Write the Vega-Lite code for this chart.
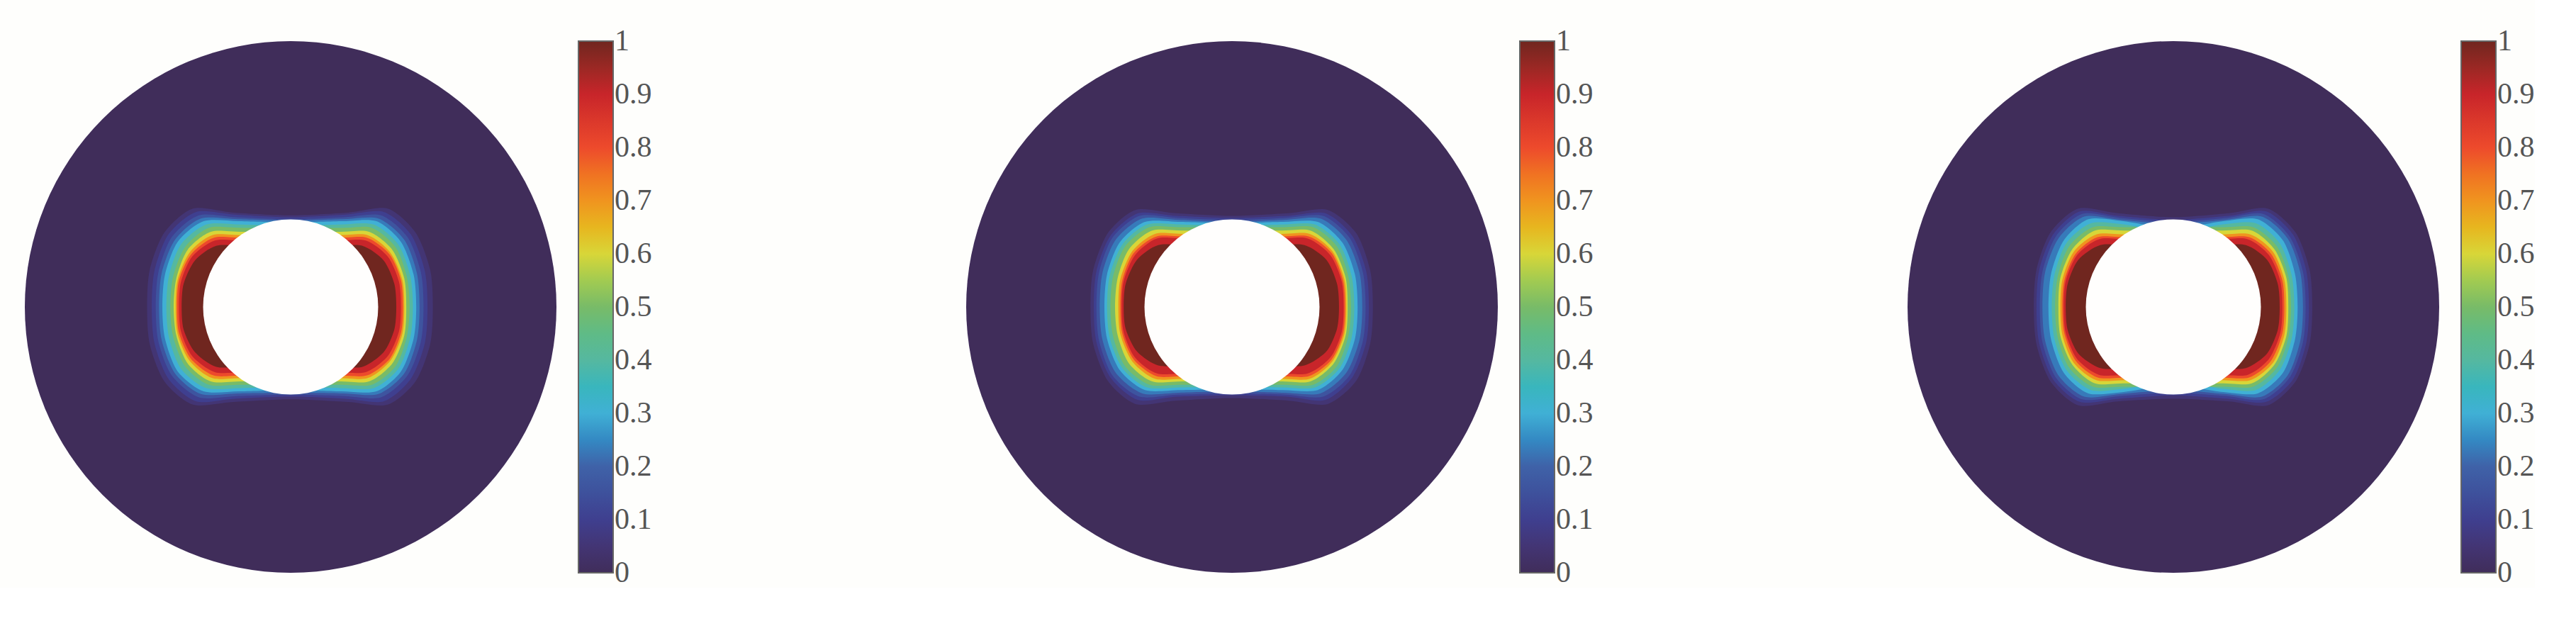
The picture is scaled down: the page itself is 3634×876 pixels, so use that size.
{"$schema":"https://vega.github.io/schema/vega-lite/v6.json","background":"#fefefc","padding":{"left":35,"top":58,"right":0,"bottom":0},"spacing":443,"config":{"view":{"stroke":null},"legend":{"title":null,"offset":31,"padding":0,"gradientLength":750,"gradientThickness":49,"gradientStrokeColor":"#666","gradientStrokeWidth":2,"labelFont":"Liberation Serif","labelFontSize":42,"labelColor":"#555","labelOffset":11,"labelOverlap":false}},"resolve":{"scale":{"fill":"independent"},"legend":{"fill":"independent"}},
"datasets":{"disc":[{"x":0,"y":0,"v":0}],"hole":[{"x":0,"y":0}],
"p1":[
{"v":0.05,"i":0,"x":0,"y":-138},{"v":0.05,"i":1,"x":86,"y":-142},{"v":0.05,"i":2,"x":146,"y":-148},{"v":0.05,"i":3,"x":188,"y":-112},{"v":0.05,"i":4,"x":210,"y":-56},{"v":0.05,"i":5,"x":214,"y":0},{"v":0.05,"i":6,"x":210,"y":56},{"v":0.05,"i":7,"x":188,"y":112},{"v":0.05,"i":8,"x":146,"y":147},{"v":0.05,"i":9,"x":86,"y":143},{"v":0.05,"i":10,"x":0,"y":139},{"v":0.05,"i":11,"x":-86,"y":143},{"v":0.05,"i":12,"x":-147,"y":147},{"v":0.05,"i":13,"x":-190,"y":112},{"v":0.05,"i":14,"x":-212,"y":56},{"v":0.05,"i":15,"x":-216,"y":0},{"v":0.05,"i":16,"x":-212,"y":-56},{"v":0.05,"i":17,"x":-190,"y":-112},{"v":0.05,"i":18,"x":-147,"y":-148},{"v":0.05,"i":19,"x":-86,"y":-142},
{"v":0.1,"i":0,"x":0,"y":-135},{"v":0.1,"i":1,"x":82,"y":-139},{"v":0.1,"i":2,"x":140,"y":-143},{"v":0.1,"i":3,"x":181,"y":-109},{"v":0.1,"i":4,"x":202,"y":-54},{"v":0.1,"i":5,"x":206,"y":0},{"v":0.1,"i":6,"x":202,"y":54},{"v":0.1,"i":7,"x":181,"y":108},{"v":0.1,"i":8,"x":140,"y":142},{"v":0.1,"i":9,"x":82,"y":138},{"v":0.1,"i":10,"x":0,"y":135},{"v":0.1,"i":11,"x":-84,"y":138},{"v":0.1,"i":12,"x":-142,"y":142},{"v":0.1,"i":13,"x":-184,"y":108},{"v":0.1,"i":14,"x":-205,"y":54},{"v":0.1,"i":15,"x":-209,"y":0},{"v":0.1,"i":16,"x":-205,"y":-54},{"v":0.1,"i":17,"x":-184,"y":-109},{"v":0.1,"i":18,"x":-142,"y":-143},{"v":0.1,"i":19,"x":-84,"y":-139},
{"v":0.16,"i":0,"x":0,"y":-132},{"v":0.16,"i":1,"x":80,"y":-135},{"v":0.16,"i":2,"x":136,"y":-138},{"v":0.16,"i":3,"x":176,"y":-105},{"v":0.16,"i":4,"x":196,"y":-52},{"v":0.16,"i":5,"x":200,"y":0},{"v":0.16,"i":6,"x":196,"y":52},{"v":0.16,"i":7,"x":176,"y":103},{"v":0.16,"i":8,"x":136,"y":136},{"v":0.16,"i":9,"x":80,"y":134},{"v":0.16,"i":10,"x":0,"y":132},{"v":0.16,"i":11,"x":-81,"y":134},{"v":0.16,"i":12,"x":-138,"y":136},{"v":0.16,"i":13,"x":-179,"y":103},{"v":0.16,"i":14,"x":-199,"y":52},{"v":0.16,"i":15,"x":-203,"y":0},{"v":0.16,"i":16,"x":-199,"y":-52},{"v":0.16,"i":17,"x":-179,"y":-105},{"v":0.16,"i":18,"x":-138,"y":-138},{"v":0.16,"i":19,"x":-81,"y":-135},
{"v":0.23,"i":0,"x":0,"y":-130},{"v":0.23,"i":1,"x":78,"y":-132},{"v":0.23,"i":2,"x":132,"y":-133},{"v":0.23,"i":3,"x":171,"y":-101},{"v":0.23,"i":4,"x":190,"y":-51},{"v":0.23,"i":5,"x":194,"y":0},{"v":0.23,"i":6,"x":190,"y":50},{"v":0.23,"i":7,"x":171,"y":100},{"v":0.23,"i":8,"x":132,"y":131},{"v":0.23,"i":9,"x":78,"y":130},{"v":0.23,"i":10,"x":0,"y":129},{"v":0.23,"i":11,"x":-79,"y":130},{"v":0.23,"i":12,"x":-135,"y":131},{"v":0.23,"i":13,"x":-174,"y":100},{"v":0.23,"i":14,"x":-194,"y":50},{"v":0.23,"i":15,"x":-198,"y":0},{"v":0.23,"i":16,"x":-194,"y":-51},{"v":0.23,"i":17,"x":-174,"y":-101},{"v":0.23,"i":18,"x":-135,"y":-133},{"v":0.23,"i":19,"x":-79,"y":-132},
{"v":0.3,"i":0,"x":0,"y":-127},{"v":0.3,"i":1,"x":76,"y":-129},{"v":0.3,"i":2,"x":129,"y":-129},{"v":0.3,"i":3,"x":166,"y":-98},{"v":0.3,"i":4,"x":185,"y":-49},{"v":0.3,"i":5,"x":189,"y":0},{"v":0.3,"i":6,"x":185,"y":48},{"v":0.3,"i":7,"x":166,"y":97},{"v":0.3,"i":8,"x":129,"y":127},{"v":0.3,"i":9,"x":76,"y":127},{"v":0.3,"i":10,"x":0,"y":125},{"v":0.3,"i":11,"x":-77,"y":127},{"v":0.3,"i":12,"x":-131,"y":127},{"v":0.3,"i":13,"x":-170,"y":97},{"v":0.3,"i":14,"x":-189,"y":48},{"v":0.3,"i":15,"x":-193,"y":0},{"v":0.3,"i":16,"x":-189,"y":-49},{"v":0.3,"i":17,"x":-170,"y":-98},{"v":0.3,"i":18,"x":-131,"y":-129},{"v":0.3,"i":19,"x":-77,"y":-129},
{"v":0.4,"i":0,"x":0,"y":-122},{"v":0.4,"i":1,"x":74,"y":-124},{"v":0.4,"i":2,"x":125,"y":-124},{"v":0.4,"i":3,"x":162,"y":-94},{"v":0.4,"i":4,"x":180,"y":-47},{"v":0.4,"i":5,"x":184,"y":0},{"v":0.4,"i":6,"x":180,"y":46},{"v":0.4,"i":7,"x":162,"y":93},{"v":0.4,"i":8,"x":125,"y":122},{"v":0.4,"i":9,"x":74,"y":122},{"v":0.4,"i":10,"x":0,"y":120},{"v":0.4,"i":11,"x":-75,"y":122},{"v":0.4,"i":12,"x":-127,"y":122},{"v":0.4,"i":13,"x":-165,"y":93},{"v":0.4,"i":14,"x":-183,"y":46},{"v":0.4,"i":15,"x":-187,"y":0},{"v":0.4,"i":16,"x":-183,"y":-47},{"v":0.4,"i":17,"x":-165,"y":-94},{"v":0.4,"i":18,"x":-127,"y":-124},{"v":0.4,"i":19,"x":-75,"y":-124},
{"v":0.5,"i":0,"x":72,"y":-119},{"v":0.5,"i":1,"x":122,"y":-119},{"v":0.5,"i":2,"x":158,"y":-90},{"v":0.5,"i":3,"x":175,"y":-45},{"v":0.5,"i":4,"x":179,"y":0},{"v":0.5,"i":5,"x":175,"y":44},{"v":0.5,"i":6,"x":158,"y":89},{"v":0.5,"i":7,"x":122,"y":117},{"v":0.5,"i":8,"x":72,"y":117},{"v":0.5,"i":9,"x":-72,"y":117},{"v":0.5,"i":10,"x":-123,"y":117},{"v":0.5,"i":11,"x":-159,"y":89},{"v":0.5,"i":12,"x":-177,"y":44},{"v":0.5,"i":13,"x":-181,"y":0},{"v":0.5,"i":14,"x":-177,"y":-45},{"v":0.5,"i":15,"x":-159,"y":-90},{"v":0.5,"i":16,"x":-123,"y":-119},{"v":0.5,"i":17,"x":-72,"y":-119},
{"v":0.6,"i":0,"x":70,"y":-113},{"v":0.6,"i":1,"x":118,"y":-113},{"v":0.6,"i":2,"x":153,"y":-86},{"v":0.6,"i":3,"x":171,"y":-43},{"v":0.6,"i":4,"x":174,"y":0},{"v":0.6,"i":5,"x":171,"y":43},{"v":0.6,"i":6,"x":153,"y":85},{"v":0.6,"i":7,"x":118,"y":112},{"v":0.6,"i":8,"x":70,"y":112},{"v":0.6,"i":9,"x":-70,"y":112},{"v":0.6,"i":10,"x":-120,"y":112},{"v":0.6,"i":11,"x":-155,"y":85},{"v":0.6,"i":12,"x":-172,"y":43},{"v":0.6,"i":13,"x":-176,"y":0},{"v":0.6,"i":14,"x":-172,"y":-43},{"v":0.6,"i":15,"x":-155,"y":-86},{"v":0.6,"i":16,"x":-120,"y":-113},{"v":0.6,"i":17,"x":-70,"y":-113},
{"v":0.7,"i":0,"x":68,"y":-108},{"v":0.7,"i":1,"x":116,"y":-108},{"v":0.7,"i":2,"x":150,"y":-82},{"v":0.7,"i":3,"x":168,"y":-41},{"v":0.7,"i":4,"x":171,"y":0},{"v":0.7,"i":5,"x":168,"y":41},{"v":0.7,"i":6,"x":150,"y":81},{"v":0.7,"i":7,"x":116,"y":107},{"v":0.7,"i":8,"x":68,"y":107},{"v":0.7,"i":9,"x":-69,"y":107},{"v":0.7,"i":10,"x":-118,"y":107},{"v":0.7,"i":11,"x":-152,"y":81},{"v":0.7,"i":12,"x":-170,"y":41},{"v":0.7,"i":13,"x":-173,"y":0},{"v":0.7,"i":14,"x":-170,"y":-41},{"v":0.7,"i":15,"x":-152,"y":-82},{"v":0.7,"i":16,"x":-118,"y":-108},{"v":0.7,"i":17,"x":-69,"y":-108},
{"v":0.8,"i":0,"x":68,"y":-104},{"v":0.8,"i":1,"x":115,"y":-104},{"v":0.8,"i":2,"x":149,"y":-79},{"v":0.8,"i":3,"x":166,"y":-40},{"v":0.8,"i":4,"x":169,"y":0},{"v":0.8,"i":5,"x":166,"y":39},{"v":0.8,"i":6,"x":149,"y":78},{"v":0.8,"i":7,"x":115,"y":103},{"v":0.8,"i":8,"x":68,"y":103},{"v":0.8,"i":9,"x":-68,"y":103},{"v":0.8,"i":10,"x":-116,"y":103},{"v":0.8,"i":11,"x":-150,"y":78},{"v":0.8,"i":12,"x":-168,"y":39},{"v":0.8,"i":13,"x":-171,"y":0},{"v":0.8,"i":14,"x":-168,"y":-40},{"v":0.8,"i":15,"x":-150,"y":-79},{"v":0.8,"i":16,"x":-116,"y":-104},{"v":0.8,"i":17,"x":-68,"y":-104},
{"v":0.9,"i":0,"x":66,"y":-100},{"v":0.9,"i":1,"x":113,"y":-100},{"v":0.9,"i":2,"x":146,"y":-76},{"v":0.9,"i":3,"x":163,"y":-38},{"v":0.9,"i":4,"x":166,"y":0},{"v":0.9,"i":5,"x":163,"y":37},{"v":0.9,"i":6,"x":146,"y":74},{"v":0.9,"i":7,"x":113,"y":98},{"v":0.9,"i":8,"x":66,"y":98},{"v":0.9,"i":9,"x":-67,"y":98},{"v":0.9,"i":10,"x":-114,"y":98},{"v":0.9,"i":11,"x":-148,"y":74},{"v":0.9,"i":12,"x":-165,"y":37},{"v":0.9,"i":13,"x":-168,"y":0},{"v":0.9,"i":14,"x":-165,"y":-38},{"v":0.9,"i":15,"x":-148,"y":-76},{"v":0.9,"i":16,"x":-114,"y":-100},{"v":0.9,"i":17,"x":-67,"y":-100},
{"v":1,"i":0,"x":64,"y":-92},{"v":1,"i":1,"x":108,"y":-92},{"v":1,"i":2,"x":140,"y":-70},{"v":1,"i":3,"x":156,"y":-35},{"v":1,"i":4,"x":159,"y":0},{"v":1,"i":5,"x":156,"y":34},{"v":1,"i":6,"x":140,"y":68},{"v":1,"i":7,"x":108,"y":90},{"v":1,"i":8,"x":64,"y":90},{"v":1,"i":9,"x":-66,"y":90},{"v":1,"i":10,"x":-112,"y":90},{"v":1,"i":11,"x":-144,"y":68},{"v":1,"i":12,"x":-161,"y":34},{"v":1,"i":13,"x":-164,"y":0},{"v":1,"i":14,"x":-161,"y":-35},{"v":1,"i":15,"x":-144,"y":-70},{"v":1,"i":16,"x":-112,"y":-92},{"v":1,"i":17,"x":-66,"y":-92}],
"p2":[
{"v":0.05,"i":0,"x":0,"y":-137},{"v":0.05,"i":1,"x":85,"y":-141},{"v":0.05,"i":2,"x":144,"y":-146},{"v":0.05,"i":3,"x":187,"y":-111},{"v":0.05,"i":4,"x":208,"y":-55},{"v":0.05,"i":5,"x":212,"y":0},{"v":0.05,"i":6,"x":208,"y":55},{"v":0.05,"i":7,"x":187,"y":111},{"v":0.05,"i":8,"x":144,"y":146},{"v":0.05,"i":9,"x":85,"y":141},{"v":0.05,"i":10,"x":0,"y":137},{"v":0.05,"i":11,"x":-85,"y":141},{"v":0.05,"i":12,"x":-145,"y":146},{"v":0.05,"i":13,"x":-187,"y":111},{"v":0.05,"i":14,"x":-209,"y":55},{"v":0.05,"i":15,"x":-213,"y":0},{"v":0.05,"i":16,"x":-209,"y":-55},{"v":0.05,"i":17,"x":-187,"y":-111},{"v":0.05,"i":18,"x":-145,"y":-146},{"v":0.05,"i":19,"x":-85,"y":-141},
{"v":0.1,"i":0,"x":0,"y":-134},{"v":0.1,"i":1,"x":82,"y":-137},{"v":0.1,"i":2,"x":140,"y":-141},{"v":0.1,"i":3,"x":181,"y":-107},{"v":0.1,"i":4,"x":202,"y":-54},{"v":0.1,"i":5,"x":206,"y":0},{"v":0.1,"i":6,"x":202,"y":53},{"v":0.1,"i":7,"x":181,"y":106},{"v":0.1,"i":8,"x":140,"y":140},{"v":0.1,"i":9,"x":82,"y":135},{"v":0.1,"i":10,"x":0,"y":133},{"v":0.1,"i":11,"x":-83,"y":135},{"v":0.1,"i":12,"x":-141,"y":140},{"v":0.1,"i":13,"x":-183,"y":106},{"v":0.1,"i":14,"x":-204,"y":53},{"v":0.1,"i":15,"x":-208,"y":0},{"v":0.1,"i":16,"x":-204,"y":-54},{"v":0.1,"i":17,"x":-183,"y":-107},{"v":0.1,"i":18,"x":-141,"y":-141},{"v":0.1,"i":19,"x":-83,"y":-137},
{"v":0.16,"i":0,"x":0,"y":-131},{"v":0.16,"i":1,"x":80,"y":-134},{"v":0.16,"i":2,"x":137,"y":-137},{"v":0.16,"i":3,"x":177,"y":-104},{"v":0.16,"i":4,"x":197,"y":-52},{"v":0.16,"i":5,"x":201,"y":0},{"v":0.16,"i":6,"x":197,"y":51},{"v":0.16,"i":7,"x":177,"y":103},{"v":0.16,"i":8,"x":137,"y":135},{"v":0.16,"i":9,"x":80,"y":132},{"v":0.16,"i":10,"x":0,"y":130},{"v":0.16,"i":11,"x":-82,"y":132},{"v":0.16,"i":12,"x":-139,"y":135},{"v":0.16,"i":13,"x":-180,"y":103},{"v":0.16,"i":14,"x":-200,"y":51},{"v":0.16,"i":15,"x":-204,"y":0},{"v":0.16,"i":16,"x":-200,"y":-52},{"v":0.16,"i":17,"x":-180,"y":-104},{"v":0.16,"i":18,"x":-139,"y":-137},{"v":0.16,"i":19,"x":-82,"y":-134},
{"v":0.23,"i":0,"x":0,"y":-128},{"v":0.23,"i":1,"x":78,"y":-131},{"v":0.23,"i":2,"x":133,"y":-133},{"v":0.23,"i":3,"x":172,"y":-101},{"v":0.23,"i":4,"x":192,"y":-51},{"v":0.23,"i":5,"x":196,"y":0},{"v":0.23,"i":6,"x":192,"y":49},{"v":0.23,"i":7,"x":172,"y":99},{"v":0.23,"i":8,"x":133,"y":130},{"v":0.23,"i":9,"x":78,"y":129},{"v":0.23,"i":10,"x":0,"y":127},{"v":0.23,"i":11,"x":-80,"y":129},{"v":0.23,"i":12,"x":-135,"y":130},{"v":0.23,"i":13,"x":-175,"y":99},{"v":0.23,"i":14,"x":-195,"y":49},{"v":0.23,"i":15,"x":-199,"y":0},{"v":0.23,"i":16,"x":-195,"y":-51},{"v":0.23,"i":17,"x":-175,"y":-101},{"v":0.23,"i":18,"x":-135,"y":-133},{"v":0.23,"i":19,"x":-80,"y":-131},
{"v":0.3,"i":0,"x":0,"y":-126},{"v":0.3,"i":1,"x":76,"y":-128},{"v":0.3,"i":2,"x":129,"y":-128},{"v":0.3,"i":3,"x":166,"y":-97},{"v":0.3,"i":4,"x":185,"y":-49},{"v":0.3,"i":5,"x":189,"y":0},{"v":0.3,"i":6,"x":185,"y":48},{"v":0.3,"i":7,"x":166,"y":95},{"v":0.3,"i":8,"x":129,"y":125},{"v":0.3,"i":9,"x":76,"y":125},{"v":0.3,"i":10,"x":0,"y":124},{"v":0.3,"i":11,"x":-77,"y":125},{"v":0.3,"i":12,"x":-131,"y":125},{"v":0.3,"i":13,"x":-169,"y":95},{"v":0.3,"i":14,"x":-188,"y":48},{"v":0.3,"i":15,"x":-192,"y":0},{"v":0.3,"i":16,"x":-188,"y":-49},{"v":0.3,"i":17,"x":-169,"y":-97},{"v":0.3,"i":18,"x":-131,"y":-128},{"v":0.3,"i":19,"x":-77,"y":-128},
{"v":0.4,"i":0,"x":0,"y":-122},{"v":0.4,"i":1,"x":74,"y":-124},{"v":0.4,"i":2,"x":125,"y":-124},{"v":0.4,"i":3,"x":162,"y":-94},{"v":0.4,"i":4,"x":180,"y":-47},{"v":0.4,"i":5,"x":184,"y":0},{"v":0.4,"i":6,"x":180,"y":46},{"v":0.4,"i":7,"x":162,"y":92},{"v":0.4,"i":8,"x":125,"y":121},{"v":0.4,"i":9,"x":74,"y":121},{"v":0.4,"i":10,"x":0,"y":120},{"v":0.4,"i":11,"x":-75,"y":121},{"v":0.4,"i":12,"x":-128,"y":121},{"v":0.4,"i":13,"x":-165,"y":92},{"v":0.4,"i":14,"x":-184,"y":46},{"v":0.4,"i":15,"x":-188,"y":0},{"v":0.4,"i":16,"x":-184,"y":-47},{"v":0.4,"i":17,"x":-165,"y":-94},{"v":0.4,"i":18,"x":-128,"y":-124},{"v":0.4,"i":19,"x":-75,"y":-124},
{"v":0.5,"i":0,"x":72,"y":-120},{"v":0.5,"i":1,"x":122,"y":-120},{"v":0.5,"i":2,"x":158,"y":-91},{"v":0.5,"i":3,"x":175,"y":-46},{"v":0.5,"i":4,"x":179,"y":0},{"v":0.5,"i":5,"x":175,"y":44},{"v":0.5,"i":6,"x":158,"y":89},{"v":0.5,"i":7,"x":122,"y":117},{"v":0.5,"i":8,"x":72,"y":117},{"v":0.5,"i":9,"x":-73,"y":117},{"v":0.5,"i":10,"x":-124,"y":117},{"v":0.5,"i":11,"x":-161,"y":89},{"v":0.5,"i":12,"x":-179,"y":44},{"v":0.5,"i":13,"x":-183,"y":0},{"v":0.5,"i":14,"x":-179,"y":-46},{"v":0.5,"i":15,"x":-161,"y":-91},{"v":0.5,"i":16,"x":-124,"y":-120},{"v":0.5,"i":17,"x":-73,"y":-120},
{"v":0.6,"i":0,"x":70,"y":-115},{"v":0.6,"i":1,"x":118,"y":-115},{"v":0.6,"i":2,"x":153,"y":-87},{"v":0.6,"i":3,"x":171,"y":-44},{"v":0.6,"i":4,"x":174,"y":0},{"v":0.6,"i":5,"x":171,"y":43},{"v":0.6,"i":6,"x":153,"y":85},{"v":0.6,"i":7,"x":118,"y":112},{"v":0.6,"i":8,"x":70,"y":112},{"v":0.6,"i":9,"x":-70,"y":112},{"v":0.6,"i":10,"x":-120,"y":112},{"v":0.6,"i":11,"x":-155,"y":85},{"v":0.6,"i":12,"x":-172,"y":43},{"v":0.6,"i":13,"x":-176,"y":0},{"v":0.6,"i":14,"x":-172,"y":-44},{"v":0.6,"i":15,"x":-155,"y":-87},{"v":0.6,"i":16,"x":-120,"y":-115},{"v":0.6,"i":17,"x":-70,"y":-115},
{"v":0.7,"i":0,"x":69,"y":-110},{"v":0.7,"i":1,"x":117,"y":-110},{"v":0.7,"i":2,"x":151,"y":-84},{"v":0.7,"i":3,"x":169,"y":-42},{"v":0.7,"i":4,"x":172,"y":0},{"v":0.7,"i":5,"x":169,"y":41},{"v":0.7,"i":6,"x":151,"y":82},{"v":0.7,"i":7,"x":117,"y":108},{"v":0.7,"i":8,"x":69,"y":108},{"v":0.7,"i":9,"x":-68,"y":108},{"v":0.7,"i":10,"x":-116,"y":108},{"v":0.7,"i":11,"x":-150,"y":82},{"v":0.7,"i":12,"x":-168,"y":41},{"v":0.7,"i":13,"x":-171,"y":0},{"v":0.7,"i":14,"x":-168,"y":-42},{"v":0.7,"i":15,"x":-150,"y":-84},{"v":0.7,"i":16,"x":-116,"y":-110},{"v":0.7,"i":17,"x":-68,"y":-110},
{"v":0.8,"i":0,"x":68,"y":-106},{"v":0.8,"i":1,"x":116,"y":-106},{"v":0.8,"i":2,"x":150,"y":-81},{"v":0.8,"i":3,"x":167,"y":-40},{"v":0.8,"i":4,"x":170,"y":0},{"v":0.8,"i":5,"x":167,"y":40},{"v":0.8,"i":6,"x":150,"y":79},{"v":0.8,"i":7,"x":116,"y":104},{"v":0.8,"i":8,"x":68,"y":104},{"v":0.8,"i":9,"x":-67,"y":104},{"v":0.8,"i":10,"x":-114,"y":104},{"v":0.8,"i":11,"x":-148,"y":79},{"v":0.8,"i":12,"x":-165,"y":40},{"v":0.8,"i":13,"x":-168,"y":0},{"v":0.8,"i":14,"x":-165,"y":-40},{"v":0.8,"i":15,"x":-148,"y":-81},{"v":0.8,"i":16,"x":-114,"y":-106},{"v":0.8,"i":17,"x":-67,"y":-106},
{"v":0.9,"i":0,"x":67,"y":-103},{"v":0.9,"i":1,"x":114,"y":-103},{"v":0.9,"i":2,"x":148,"y":-78},{"v":0.9,"i":3,"x":165,"y":-39},{"v":0.9,"i":4,"x":168,"y":0},{"v":0.9,"i":5,"x":165,"y":38},{"v":0.9,"i":6,"x":148,"y":76},{"v":0.9,"i":7,"x":114,"y":100},{"v":0.9,"i":8,"x":67,"y":100},{"v":0.9,"i":9,"x":-66,"y":100},{"v":0.9,"i":10,"x":-113,"y":100},{"v":0.9,"i":11,"x":-146,"y":76},{"v":0.9,"i":12,"x":-163,"y":38},{"v":0.9,"i":13,"x":-166,"y":0},{"v":0.9,"i":14,"x":-163,"y":-39},{"v":0.9,"i":15,"x":-146,"y":-78},{"v":0.9,"i":16,"x":-113,"y":-103},{"v":0.9,"i":17,"x":-66,"y":-103},
{"v":1,"i":0,"x":64,"y":-93},{"v":1,"i":1,"x":109,"y":-93},{"v":1,"i":2,"x":142,"y":-71},{"v":1,"i":3,"x":158,"y":-35},{"v":1,"i":4,"x":161,"y":0},{"v":1,"i":5,"x":158,"y":33},{"v":1,"i":6,"x":142,"y":67},{"v":1,"i":7,"x":109,"y":88},{"v":1,"i":8,"x":64,"y":88},{"v":1,"i":9,"x":-65,"y":88},{"v":1,"i":10,"x":-111,"y":88},{"v":1,"i":11,"x":-143,"y":67},{"v":1,"i":12,"x":-160,"y":33},{"v":1,"i":13,"x":-163,"y":0},{"v":1,"i":14,"x":-160,"y":-35},{"v":1,"i":15,"x":-143,"y":-71},{"v":1,"i":16,"x":-111,"y":-93},{"v":1,"i":17,"x":-65,"y":-93}],
"p3":[
{"v":0.05,"i":0,"x":0,"y":-135},{"v":0.05,"i":1,"x":84,"y":-141},{"v":0.05,"i":2,"x":142,"y":-148},{"v":0.05,"i":3,"x":184,"y":-112},{"v":0.05,"i":4,"x":205,"y":-56},{"v":0.05,"i":5,"x":209,"y":0},{"v":0.05,"i":6,"x":205,"y":56},{"v":0.05,"i":7,"x":184,"y":112},{"v":0.05,"i":8,"x":142,"y":148},{"v":0.05,"i":9,"x":84,"y":142},{"v":0.05,"i":10,"x":0,"y":138},{"v":0.05,"i":11,"x":-84,"y":142},{"v":0.05,"i":12,"x":-143,"y":148},{"v":0.05,"i":13,"x":-185,"y":112},{"v":0.05,"i":14,"x":-206,"y":56},{"v":0.05,"i":15,"x":-210,"y":0},{"v":0.05,"i":16,"x":-206,"y":-56},{"v":0.05,"i":17,"x":-185,"y":-112},{"v":0.05,"i":18,"x":-143,"y":-148},{"v":0.05,"i":19,"x":-84,"y":-141},
{"v":0.1,"i":0,"x":0,"y":-131},{"v":0.1,"i":1,"x":82,"y":-137},{"v":0.1,"i":2,"x":139,"y":-144},{"v":0.1,"i":3,"x":180,"y":-109},{"v":0.1,"i":4,"x":200,"y":-55},{"v":0.1,"i":5,"x":204,"y":0},{"v":0.1,"i":6,"x":200,"y":54},{"v":0.1,"i":7,"x":180,"y":109},{"v":0.1,"i":8,"x":139,"y":143},{"v":0.1,"i":9,"x":82,"y":138},{"v":0.1,"i":10,"x":0,"y":133},{"v":0.1,"i":11,"x":-82,"y":138},{"v":0.1,"i":12,"x":-140,"y":143},{"v":0.1,"i":13,"x":-181,"y":109},{"v":0.1,"i":14,"x":-202,"y":54},{"v":0.1,"i":15,"x":-206,"y":0},{"v":0.1,"i":16,"x":-202,"y":-55},{"v":0.1,"i":17,"x":-181,"y":-109},{"v":0.1,"i":18,"x":-140,"y":-144},{"v":0.1,"i":19,"x":-82,"y":-137},
{"v":0.16,"i":0,"x":0,"y":-128},{"v":0.16,"i":1,"x":80,"y":-134},{"v":0.16,"i":2,"x":135,"y":-140},{"v":0.16,"i":3,"x":175,"y":-106},{"v":0.16,"i":4,"x":195,"y":-53},{"v":0.16,"i":5,"x":199,"y":0},{"v":0.16,"i":6,"x":195,"y":53},{"v":0.16,"i":7,"x":175,"y":106},{"v":0.16,"i":8,"x":135,"y":139},{"v":0.16,"i":9,"x":80,"y":134},{"v":0.16,"i":10,"x":0,"y":129},{"v":0.16,"i":11,"x":-80,"y":134},{"v":0.16,"i":12,"x":-137,"y":139},{"v":0.16,"i":13,"x":-177,"y":106},{"v":0.16,"i":14,"x":-197,"y":53},{"v":0.16,"i":15,"x":-201,"y":0},{"v":0.16,"i":16,"x":-197,"y":-53},{"v":0.16,"i":17,"x":-177,"y":-106},{"v":0.16,"i":18,"x":-137,"y":-140},{"v":0.16,"i":19,"x":-80,"y":-134},
{"v":0.23,"i":0,"x":0,"y":-125},{"v":0.23,"i":1,"x":78,"y":-131},{"v":0.23,"i":2,"x":133,"y":-136},{"v":0.23,"i":3,"x":172,"y":-103},{"v":0.23,"i":4,"x":191,"y":-52},{"v":0.23,"i":5,"x":195,"y":0},{"v":0.23,"i":6,"x":191,"y":51},{"v":0.23,"i":7,"x":172,"y":103},{"v":0.23,"i":8,"x":133,"y":135},{"v":0.23,"i":9,"x":78,"y":131},{"v":0.23,"i":10,"x":0,"y":125},{"v":0.23,"i":11,"x":-79,"y":131},{"v":0.23,"i":12,"x":-134,"y":135},{"v":0.23,"i":13,"x":-173,"y":103},{"v":0.23,"i":14,"x":-193,"y":51},{"v":0.23,"i":15,"x":-197,"y":0},{"v":0.23,"i":16,"x":-193,"y":-52},{"v":0.23,"i":17,"x":-173,"y":-103},{"v":0.23,"i":18,"x":-134,"y":-136},{"v":0.23,"i":19,"x":-79,"y":-131},
{"v":0.3,"i":0,"x":0,"y":-118},{"v":0.3,"i":1,"x":75,"y":-129},{"v":0.3,"i":2,"x":127,"y":-132},{"v":0.3,"i":3,"x":165,"y":-100},{"v":0.3,"i":4,"x":183,"y":-50},{"v":0.3,"i":5,"x":187,"y":0},{"v":0.3,"i":6,"x":183,"y":49},{"v":0.3,"i":7,"x":165,"y":99},{"v":0.3,"i":8,"x":127,"y":130},{"v":0.3,"i":9,"x":75,"y":128},{"v":0.3,"i":10,"x":0,"y":118},{"v":0.3,"i":11,"x":-75,"y":128},{"v":0.3,"i":12,"x":-128,"y":130},{"v":0.3,"i":13,"x":-165,"y":99},{"v":0.3,"i":14,"x":-184,"y":49},{"v":0.3,"i":15,"x":-188,"y":0},{"v":0.3,"i":16,"x":-184,"y":-50},{"v":0.3,"i":17,"x":-165,"y":-100},{"v":0.3,"i":18,"x":-128,"y":-132},{"v":0.3,"i":19,"x":-75,"y":-129},
{"v":0.4,"i":0,"x":0,"y":-112},{"v":0.4,"i":1,"x":73,"y":-124},{"v":0.4,"i":2,"x":124,"y":-126},{"v":0.4,"i":3,"x":160,"y":-96},{"v":0.4,"i":4,"x":178,"y":-48},{"v":0.4,"i":5,"x":182,"y":0},{"v":0.4,"i":6,"x":178,"y":48},{"v":0.4,"i":7,"x":160,"y":95},{"v":0.4,"i":8,"x":124,"y":125},{"v":0.4,"i":9,"x":73,"y":123},{"v":0.4,"i":10,"x":0,"y":112},{"v":0.4,"i":11,"x":-73,"y":123},{"v":0.4,"i":12,"x":-124,"y":125},{"v":0.4,"i":13,"x":-161,"y":95},{"v":0.4,"i":14,"x":-179,"y":48},{"v":0.4,"i":15,"x":-183,"y":0},{"v":0.4,"i":16,"x":-179,"y":-48},{"v":0.4,"i":17,"x":-161,"y":-96},{"v":0.4,"i":18,"x":-124,"y":-126},{"v":0.4,"i":19,"x":-73,"y":-124},
{"v":0.5,"i":0,"x":71,"y":-120},{"v":0.5,"i":1,"x":120,"y":-120},{"v":0.5,"i":2,"x":156,"y":-91},{"v":0.5,"i":3,"x":173,"y":-46},{"v":0.5,"i":4,"x":177,"y":0},{"v":0.5,"i":5,"x":173,"y":46},{"v":0.5,"i":6,"x":156,"y":91},{"v":0.5,"i":7,"x":120,"y":120},{"v":0.5,"i":8,"x":71,"y":120},{"v":0.5,"i":9,"x":-71,"y":120},{"v":0.5,"i":10,"x":-121,"y":120},{"v":0.5,"i":11,"x":-157,"y":91},{"v":0.5,"i":12,"x":-174,"y":46},{"v":0.5,"i":13,"x":-178,"y":0},{"v":0.5,"i":14,"x":-174,"y":-46},{"v":0.5,"i":15,"x":-157,"y":-91},{"v":0.5,"i":16,"x":-121,"y":-120},{"v":0.5,"i":17,"x":-71,"y":-120},
{"v":0.6,"i":0,"x":69,"y":-115},{"v":0.6,"i":1,"x":118,"y":-115},{"v":0.6,"i":2,"x":152,"y":-87},{"v":0.6,"i":3,"x":170,"y":-44},{"v":0.6,"i":4,"x":173,"y":0},{"v":0.6,"i":5,"x":170,"y":44},{"v":0.6,"i":6,"x":152,"y":87},{"v":0.6,"i":7,"x":118,"y":115},{"v":0.6,"i":8,"x":69,"y":115},{"v":0.6,"i":9,"x":-69,"y":115},{"v":0.6,"i":10,"x":-118,"y":115},{"v":0.6,"i":11,"x":-152,"y":87},{"v":0.6,"i":12,"x":-170,"y":44},{"v":0.6,"i":13,"x":-173,"y":0},{"v":0.6,"i":14,"x":-170,"y":-44},{"v":0.6,"i":15,"x":-152,"y":-87},{"v":0.6,"i":16,"x":-118,"y":-115},{"v":0.6,"i":17,"x":-69,"y":-115},
{"v":0.7,"i":0,"x":68,"y":-109},{"v":0.7,"i":1,"x":116,"y":-109},{"v":0.7,"i":2,"x":150,"y":-83},{"v":0.7,"i":3,"x":167,"y":-41},{"v":0.7,"i":4,"x":170,"y":0},{"v":0.7,"i":5,"x":167,"y":42},{"v":0.7,"i":6,"x":150,"y":84},{"v":0.7,"i":7,"x":116,"y":110},{"v":0.7,"i":8,"x":68,"y":110},{"v":0.7,"i":9,"x":-68,"y":110},{"v":0.7,"i":10,"x":-116,"y":110},{"v":0.7,"i":11,"x":-150,"y":84},{"v":0.7,"i":12,"x":-167,"y":42},{"v":0.7,"i":13,"x":-170,"y":0},{"v":0.7,"i":14,"x":-167,"y":-41},{"v":0.7,"i":15,"x":-150,"y":-83},{"v":0.7,"i":16,"x":-116,"y":-109},{"v":0.7,"i":17,"x":-68,"y":-109},
{"v":0.8,"i":0,"x":67,"y":-105},{"v":0.8,"i":1,"x":114,"y":-105},{"v":0.8,"i":2,"x":147,"y":-80},{"v":0.8,"i":3,"x":164,"y":-40},{"v":0.8,"i":4,"x":167,"y":0},{"v":0.8,"i":5,"x":164,"y":40},{"v":0.8,"i":6,"x":147,"y":81},{"v":0.8,"i":7,"x":114,"y":106},{"v":0.8,"i":8,"x":67,"y":106},{"v":0.8,"i":9,"x":-67,"y":106},{"v":0.8,"i":10,"x":-114,"y":106},{"v":0.8,"i":11,"x":-147,"y":81},{"v":0.8,"i":12,"x":-164,"y":40},{"v":0.8,"i":13,"x":-167,"y":0},{"v":0.8,"i":14,"x":-164,"y":-40},{"v":0.8,"i":15,"x":-147,"y":-80},{"v":0.8,"i":16,"x":-114,"y":-105},{"v":0.8,"i":17,"x":-67,"y":-105},
{"v":0.9,"i":0,"x":66,"y":-102},{"v":0.9,"i":1,"x":112,"y":-102},{"v":0.9,"i":2,"x":144,"y":-78},{"v":0.9,"i":3,"x":161,"y":-39},{"v":0.9,"i":4,"x":164,"y":0},{"v":0.9,"i":5,"x":161,"y":39},{"v":0.9,"i":6,"x":144,"y":78},{"v":0.9,"i":7,"x":112,"y":102},{"v":0.9,"i":8,"x":66,"y":102},{"v":0.9,"i":9,"x":-66,"y":102},{"v":0.9,"i":10,"x":-112,"y":102},{"v":0.9,"i":11,"x":-145,"y":78},{"v":0.9,"i":12,"x":-162,"y":39},{"v":0.9,"i":13,"x":-165,"y":0},{"v":0.9,"i":14,"x":-162,"y":-39},{"v":0.9,"i":15,"x":-145,"y":-78},{"v":0.9,"i":16,"x":-112,"y":-102},{"v":0.9,"i":17,"x":-66,"y":-102},
{"v":1,"i":0,"x":64,"y":-93},{"v":1,"i":1,"x":109,"y":-93},{"v":1,"i":2,"x":141,"y":-71},{"v":1,"i":3,"x":157,"y":-35},{"v":1,"i":4,"x":160,"y":0},{"v":1,"i":5,"x":157,"y":35},{"v":1,"i":6,"x":141,"y":70},{"v":1,"i":7,"x":109,"y":92},{"v":1,"i":8,"x":64,"y":92},{"v":1,"i":9,"x":-65,"y":92},{"v":1,"i":10,"x":-110,"y":92},{"v":1,"i":11,"x":-143,"y":70},{"v":1,"i":12,"x":-159,"y":35},{"v":1,"i":13,"x":-162,"y":0},{"v":1,"i":14,"x":-159,"y":-35},{"v":1,"i":15,"x":-143,"y":-71},{"v":1,"i":16,"x":-110,"y":-93},{"v":1,"i":17,"x":-65,"y":-93}]},
"hconcat":[
{"width":750,"height":750,"layer":[{"data":{"name":"disc"},"mark":{"type":"point","filled":true,"size":562500,"opacity":1,"strokeWidth":0},"encoding":{"x":{"field":"x","type":"quantitative","scale":{"domain":[-375,375]},"axis":null},"y":{"field":"y","type":"quantitative","scale":{"domain":[375,-375]},"axis":null},"fill":{"field":"v","type":"quantitative","scale":{"domain":[0,0.1,0.2,0.3,0.4,0.5,0.6,0.7,0.8,0.9,1],"range":["#402d5a","#3f3f8f","#3f62a8","#40b0d5","#55b8a0","#78bb68","#d8d638","#f0941f","#ed4a2c","#c8252a","#70261f"]},"legend":{"format":".1~f","values":[0,0.1,0.2,0.3,0.4,0.5,0.6,0.7,0.8,0.9,1],"encoding":{"labels":{"update":{"baseline":{"value":"middle"}},"baseline":{"value":"middle"}}}}}}},{"data":{"name":"p1"},"mark":{"type":"line","interpolate":"cardinal-closed","tension":0.2,"strokeWidth":0},"encoding":{"x":{"field":"x","type":"quantitative"},"y":{"field":"y","type":"quantitative"},"detail":{"field":"v"},"fill":{"field":"v","type":"quantitative"},"order":{"field":"i","type":"quantitative"}}},{"data":{"name":"hole"},"mark":{"type":"point","filled":true,"size":61009,"opacity":1,"strokeWidth":0,"color":"#fffefd"},"encoding":{"x":{"field":"x","type":"quantitative"},"y":{"field":"y","type":"quantitative"}}}]},
{"width":750,"height":750,"layer":[{"data":{"name":"disc"},"mark":{"type":"point","filled":true,"size":562500,"opacity":1,"strokeWidth":0},"encoding":{"x":{"field":"x","type":"quantitative","scale":{"domain":[-375,375]},"axis":null},"y":{"field":"y","type":"quantitative","scale":{"domain":[375,-375]},"axis":null},"fill":{"field":"v","type":"quantitative","scale":{"domain":[0,0.1,0.2,0.3,0.4,0.5,0.6,0.7,0.8,0.9,1],"range":["#402d5a","#3f3f8f","#3f62a8","#40b0d5","#55b8a0","#78bb68","#d8d638","#f0941f","#ed4a2c","#c8252a","#70261f"]},"legend":{"format":".1~f","values":[0,0.1,0.2,0.3,0.4,0.5,0.6,0.7,0.8,0.9,1],"encoding":{"labels":{"update":{"baseline":{"value":"middle"}},"baseline":{"value":"middle"}}}}}}},{"data":{"name":"p2"},"mark":{"type":"line","interpolate":"cardinal-closed","tension":0.2,"strokeWidth":0},"encoding":{"x":{"field":"x","type":"quantitative"},"y":{"field":"y","type":"quantitative"},"detail":{"field":"v"},"fill":{"field":"v","type":"quantitative"},"order":{"field":"i","type":"quantitative"}}},{"data":{"name":"hole"},"mark":{"type":"point","filled":true,"size":61009,"opacity":1,"strokeWidth":0,"color":"#fffefd"},"encoding":{"x":{"field":"x","type":"quantitative"},"y":{"field":"y","type":"quantitative"}}}]},
{"width":750,"height":750,"layer":[{"data":{"name":"disc"},"mark":{"type":"point","filled":true,"size":562500,"opacity":1,"strokeWidth":0},"encoding":{"x":{"field":"x","type":"quantitative","scale":{"domain":[-375,375]},"axis":null},"y":{"field":"y","type":"quantitative","scale":{"domain":[375,-375]},"axis":null},"fill":{"field":"v","type":"quantitative","scale":{"domain":[0,0.1,0.2,0.3,0.4,0.5,0.6,0.7,0.8,0.9,1],"range":["#402d5a","#3f3f8f","#3f62a8","#40b0d5","#55b8a0","#78bb68","#d8d638","#f0941f","#ed4a2c","#c8252a","#70261f"]},"legend":{"format":".1~f","values":[0,0.1,0.2,0.3,0.4,0.5,0.6,0.7,0.8,0.9,1],"encoding":{"labels":{"update":{"baseline":{"value":"middle"}},"baseline":{"value":"middle"}}}}}}},{"data":{"name":"p3"},"mark":{"type":"line","interpolate":"cardinal-closed","tension":0.2,"strokeWidth":0},"encoding":{"x":{"field":"x","type":"quantitative"},"y":{"field":"y","type":"quantitative"},"detail":{"field":"v"},"fill":{"field":"v","type":"quantitative"},"order":{"field":"i","type":"quantitative"}}},{"data":{"name":"hole"},"mark":{"type":"point","filled":true,"size":61009,"opacity":1,"strokeWidth":0,"color":"#fffefd"},"encoding":{"x":{"field":"x","type":"quantitative"},"y":{"field":"y","type":"quantitative"}}}]}
]}
